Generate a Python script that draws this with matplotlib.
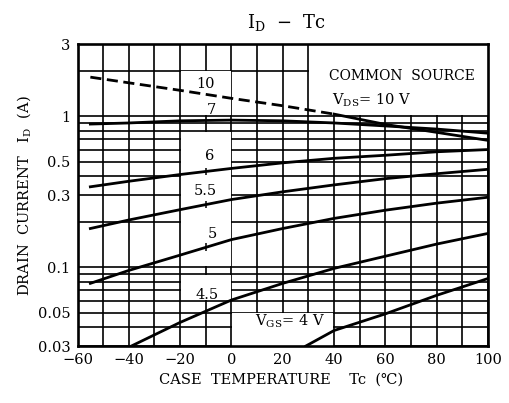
import numpy as np
import matplotlib
matplotlib.use("Agg")
from matplotlib import pyplot as plt
from matplotlib.patches import Rectangle

plt.rcParams['font.family'] = ['DejaVu Serif', 'DejaVu Sans']
plt.rcParams['mathtext.fontset'] = 'custom'
plt.rcParams['mathtext.rm'] = 'DejaVu Serif'

# I_D vs Tc curves, one per gate voltage
t_10a = [-55, -40, -20, 0, 20, 40]
i_10a = [1.81, 1.66, 1.48, 1.31, 1.17, 1.03]
t_10b = [40, 60, 80, 100]
i_10b = [1.03, 0.88, 0.78, 0.69]

t_7 = [-55, -40, -20, 0, 20, 40, 60, 80, 100]
i_7 = [0.885, 0.90, 0.93, 0.94, 0.93, 0.90, 0.86, 0.82, 0.77]

t_6 = [-55, -40, -20, 0, 20, 40, 60, 80, 100]
i_6 = [0.34, 0.37, 0.41, 0.45, 0.49, 0.525, 0.55, 0.58, 0.60]

t_55 = [-55, -40, -20, 0, 20, 40, 60, 80, 100]
i_55 = [0.18, 0.205, 0.24, 0.28, 0.315, 0.35, 0.385, 0.415, 0.444]

t_5 = [-55, -40, -20, 0, 20, 40, 60, 80, 100]
i_5 = [0.078, 0.095, 0.12, 0.152, 0.18, 0.21, 0.238, 0.265, 0.29]

t_45 = [-39, -20, -10, 0, 20, 40, 60, 80, 100]
i_45 = [0.03, 0.043, 0.051, 0.0605, 0.078, 0.098, 0.118, 0.142, 0.167]

t_4 = [29, 40, 60, 80, 100]
i_4 = [0.03, 0.038, 0.049, 0.065, 0.084]

# curve labels: text, Tc, I_D
labels = [("10", -10, 1.63), ("7", -8, 1.10), ("6", -8.6, 0.54),
          ("5.5", -10.3, 0.32), ("5", -7.5, 0.165), ("4.5", -9.6, 0.065)]

yticks = [0.03, 0.05, 0.1, 0.3, 0.5, 1, 3]
ytick_labels = ["0.03", "0.05", "0.1", "0.3", "0.5", "1", "3"]
xticks = [-60, -40, -20, 0, 20, 40, 60, 80, 100]

fig = plt.figure(figsize=(5.09, 4.03), dpi=100)
ax = fig.add_axes([0.1523, 0.1414, 0.8065, 0.7494])
ax.set_yscale('log')
ax.set_xlim(-60, 100)
ax.set_ylim(0.03, 3)

ax.set_xticks(xticks)
ax.set_xticks(np.arange(-60, 101, 10), minor=True)
ax.set_yticks(yticks)
ax.set_yticklabels(ytick_labels)
ax.set_yticks([m * d for d in (0.01, 0.1, 1) for m in range(2, 10) if 0.03 <= m * d <= 3], minor=True)
ax.yaxis.set_minor_formatter(plt.NullFormatter())
ax.tick_params(which='both', length=0, labelsize=10.5)
ax.tick_params(axis='x', pad=5)
ax.tick_params(axis='y', pad=5)

ax.set_axisbelow(True)
ax.grid(True, which='both', color='black', linewidth=1.2)
for s in ax.spines.values():
    s.set_linewidth(1.9)

# white label areas where the grid is left out
boxes = [(30.3, 1.012, 69.7, 3 - 1.012),
         (-19.7, 1.012, 19.4, 2 - 1.012 - 0.02),
         (-19.7, 0.102, 19.4, 0.79 - 0.102),
         (-19.7, 0.0605, 19.4, 0.089 - 0.0605),
         (0.3, 0.0302, 39.4, 0.0495 - 0.0302)]
for bx, by, bw, bh in boxes:
    ax.add_patch(Rectangle((bx, by), bw, bh, facecolor='white', edgecolor='none', zorder=1))

lw = 2.0
ax.plot(t_10a, i_10a, color='black', lw=lw, linestyle=(0, (4, 2)), zorder=2)
ax.plot(t_10b, i_10b, color='black', lw=lw, zorder=2)
for t, i in [(t_7, i_7), (t_6, i_6), (t_55, i_55), (t_5, i_5), (t_45, i_45), (t_4, i_4)]:
    ax.plot(t, i, color='black', lw=lw, zorder=2)

# small marks where the curves cross Tc = -10
for t, i in [(t_6, i_6), (t_55, i_55), (t_5, i_5)]:
    v = np.interp(-10, t, i)
    ax.vlines(-10, v * 0.94, v * 1.06, color='black', lw=1.1, zorder=2)

for txt, t, i in labels:
    ax.text(t, i, txt, ha='center', va='center', fontsize=10.5, zorder=3)

ax.text(23, 0.0435, r"V$_{\rm GS}$= 4 V", ha='center', va='center', fontsize=10.5, zorder=3)
ax.text(0.79, 0.895, "COMMON  SOURCE", transform=ax.transAxes, ha='center', va='center', fontsize=10)
ax.text(0.62, 0.815, r"V$_{\rm DS}$= 10 V", transform=ax.transAxes, ha='left', va='center', fontsize=10.5)

fig.text(0.562, 0.945, r"I$_{\rm D}$  $-$  Tc", ha='center', va='center', fontsize=13)
fig.text(0.049, 0.515, r"DRAIN  CURRENT   I$_{\rm D}$  (A)", rotation=90, ha='center', va='center', fontsize=10.5)
fig.text(0.552, 0.057, "CASE  TEMPERATURE    Tc  (℃)", ha='center', va='center', fontsize=10.5)

fig.savefig("out.png", dpi=100)
